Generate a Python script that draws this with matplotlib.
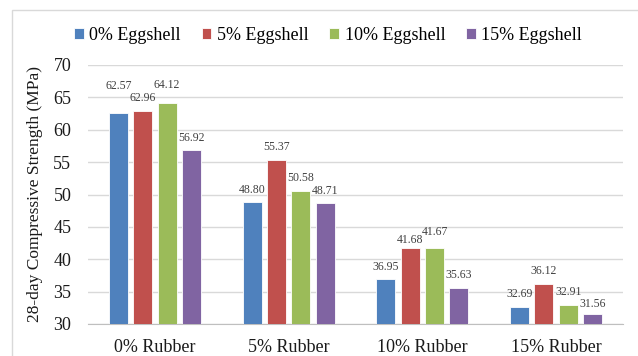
import numpy as np
import matplotlib
matplotlib.use("Agg")
import matplotlib.pyplot as plt
from matplotlib.patches import Rectangle

plt.rcParams['font.family'] = 'serif'
plt.rcParams['font.serif'] = ['Liberation Serif', 'Times New Roman', 'DejaVu Serif']

# rubber replacement groups and eggshell series
rubber = ['0% Rubber', '5% Rubber', '10% Rubber', '15% Rubber']
eggshell = ['0% Eggshell', '5% Eggshell', '10% Eggshell', '15% Eggshell']
egg0 = [62.57, 48.80, 36.95, 32.69]
egg5 = [62.96, 55.37, 41.68, 36.12]
egg10 = [64.12, 50.58, 41.67, 32.91]
egg15 = [56.92, 48.71, 35.63, 31.56]

colors = ['#4F81BD', '#C0504D', '#9BBB59', '#8064A2']
# vertical gap (pixels) between bar top and label centre, per series/group
label_gap = [[27, 12.5, 12, 13],
             [13, 13, 8, 13],
             [18, 12.5, 16, 13],
             [12, 12, 13, 10]]

fig = plt.figure(figsize=(6.38, 3.56), dpi=100)
# light outer frame
fig.patches.append(Rectangle((12 / 638, -0.1), 1.0, (1 - 10 / 356) + 0.1,
                             transform=fig.transFigure, fill=False,
                             edgecolor='#D9D9D9', linewidth=1.0))
ax = fig.add_axes([88 / 638, 1 - 324 / 356, 535 / 638, 259 / 356])

x = np.arange(len(rubber))
step = 0.1825
width = 0.142
series = [egg0, egg5, egg10, egg15]
for i, vals in enumerate(series):
    pos = x + (i - 1.5) * step
    ax.bar(pos, vals, width, bottom=0, color=colors[i], edgecolor='white',
           linewidth=0.6, label=eggshell[i], zorder=3)
    for j, v in enumerate(vals):
        ax.annotate(f'{v:.2f}', (pos[j], v), xytext=(0, label_gap[i][j]),
                    textcoords='offset pixels', ha='center', va='center',
                    fontsize=8.5, color='#404040', zorder=4)

ax.set_xlim(-0.5, 3.5)
ax.set_ylim(30, 70)
ax.set_yticks(np.arange(30, 71, 5))
ax.set_xticks(x)
ax.set_xticklabels(rubber)
ax.tick_params(axis='x', length=0, pad=11, labelsize=13, labelcolor='#1a1a1a')
ax.tick_params(axis='y', length=0, pad=12, labelsize=13, labelcolor='#1a1a1a')
ax.grid(axis='y', color='#D9D9D9', linewidth=1.0, zorder=0)
for s in ['top', 'right', 'left']:
    ax.spines[s].set_visible(False)
ax.spines['bottom'].set_color('#BFBFBF')
ax.set_ylabel('28-day Compressive Strength (MPa)', fontsize=12.5, color='#1a1a1a')
ax.yaxis.set_label_coords(-0.084, 0.5)

ax.legend(loc='center', bbox_to_anchor=(328 / 638, 1 - 35 / 356), bbox_transform=fig.transFigure,
          ncol=4, frameon=False, fontsize=13, handlelength=0.55, handleheight=0.55,
          handletextpad=0.3, columnspacing=1.15)

fig.savefig('out.png', dpi=100)
